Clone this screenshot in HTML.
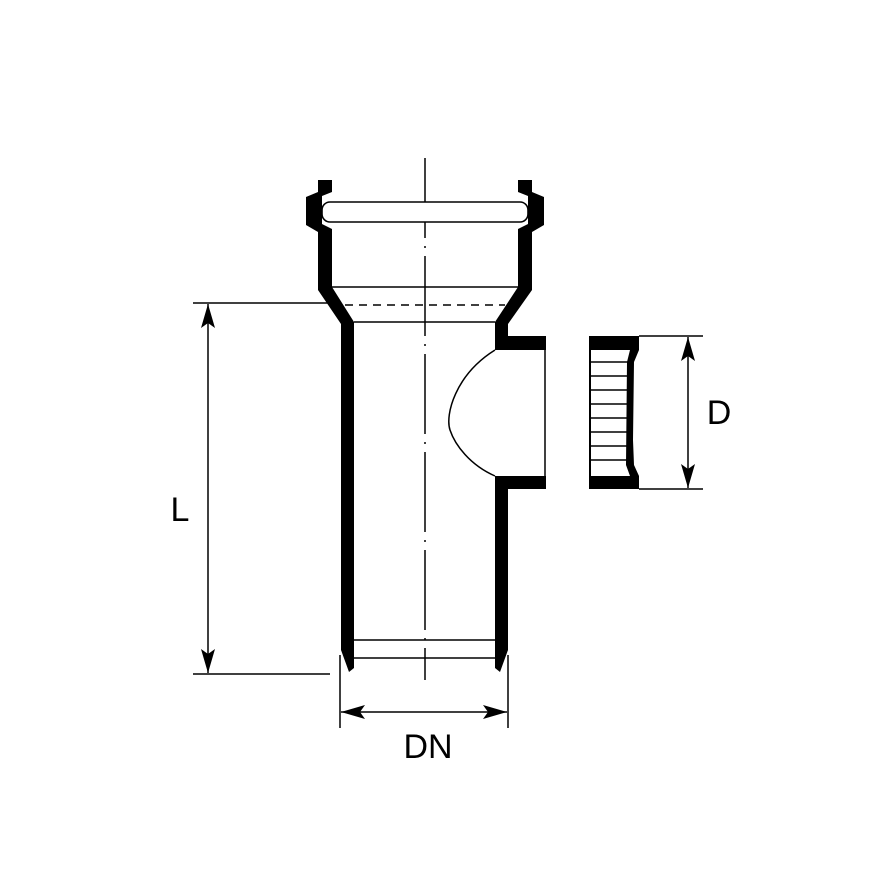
<!DOCTYPE html>
<html><head><meta charset="utf-8"><style>html,body{margin:0;padding:0;background:#fff}</style></head>
<body>
<svg width="880" height="880" viewBox="0 0 880 880" xmlns="http://www.w3.org/2000/svg">
<rect width="880" height="880" fill="#fff"/>
<defs>
<marker id="ar" markerWidth="24" markerHeight="14" refX="24" refY="7" orient="auto" markerUnits="userSpaceOnUse">
<path d="M0,0 L24,7 L0,14 L5,7 Z" fill="#000"/>
</marker>
</defs>
<line x1="425" y1="158" x2="425" y2="680" stroke="#000" stroke-width="1.5" stroke-dasharray="80,8,2,8"/>
<path d="M318,180 L332,180 L332,192 L322,196 L322,224 L332,229 L332,287 L354,322 L354,668 L349,672 L341,650 L341,324 L318,290 L318,232 L306,225 L306,197 L318,192 Z" fill="#000"/>
<path d="M532,180 L518,180 L518,192 L528,196 L528,224 L518,229 L518,287 L495,322 L495,336 L508,336 L508,324 L532,290 L532,232 L544,225 L544,197 L532,192 Z" fill="#000"/>
<path d="M495,336 L546,336 L546,350 L495,350 Z" fill="#000"/>
<path d="M495,476 L546,476 L546,489 L508,489 L508,650 L500,672 L495,668 Z" fill="#000"/>
<line x1="545" y1="350" x2="545" y2="476" stroke="#000" stroke-width="1.5"/>
<path d="M495,350 C455,375 445,415 450,430 C455,445 470,465 495,476" fill="none" stroke="#000" stroke-width="1.5"/>
<rect x="322" y="202" width="206" height="20" rx="8" fill="#fff" stroke="#000" stroke-width="1.6"/>
<line x1="332" y1="287" x2="518" y2="287" stroke="#000" stroke-width="1.5"/>
<line x1="345" y1="305" x2="505" y2="305" stroke="#000" stroke-width="1.5" stroke-dasharray="8,6"/>
<line x1="354" y1="322" x2="495" y2="322" stroke="#000" stroke-width="1.5"/>
<line x1="354" y1="640" x2="495" y2="640" stroke="#000" stroke-width="1.5"/>
<line x1="354" y1="658" x2="495" y2="658" stroke="#000" stroke-width="1.5"/>
<rect x="589" y="336" width="50" height="14" fill="#000"/>
<rect x="589" y="476" width="50" height="13" fill="#000"/>
<line x1="590" y1="350" x2="590" y2="476" stroke="#000" stroke-width="2"/>
<path d="M639,350 L634,362 L633,440 L634,465 L639,476 L630,476 L626,465 L627,362 L630,350 Z" fill="#000"/>
<g stroke="#000" stroke-width="1.4">
<line x1="590" y1="362" x2="628" y2="362"/><line x1="590" y1="376" x2="628" y2="376"/>
<line x1="590" y1="390" x2="628" y2="390"/><line x1="590" y1="404" x2="628" y2="404"/>
<line x1="590" y1="418" x2="628" y2="418"/><line x1="590" y1="432" x2="628" y2="432"/>
<line x1="590" y1="446" x2="628" y2="446"/><line x1="590" y1="460" x2="628" y2="460"/>
</g>
<line x1="639" y1="336" x2="703" y2="336" stroke="#000" stroke-width="1.5"/>
<line x1="639" y1="489" x2="703" y2="489" stroke="#000" stroke-width="1.5"/>
<line x1="688" y1="412" x2="688" y2="337" stroke="#000" stroke-width="1.5" marker-end="url(#ar)"/>
<line x1="688" y1="412" x2="688" y2="488" stroke="#000" stroke-width="1.5" marker-end="url(#ar)"/>
<text x="719" y="424" font-family="Liberation Sans, sans-serif" font-size="34" text-anchor="middle">D</text>
<line x1="193" y1="303" x2="330" y2="303" stroke="#000" stroke-width="1.5"/>
<line x1="193" y1="674" x2="330" y2="674" stroke="#000" stroke-width="1.5"/>
<line x1="208" y1="490" x2="208" y2="304" stroke="#000" stroke-width="1.5" marker-end="url(#ar)"/>
<line x1="208" y1="490" x2="208" y2="673" stroke="#000" stroke-width="1.5" marker-end="url(#ar)"/>
<text x="180" y="521" font-family="Liberation Sans, sans-serif" font-size="34" text-anchor="middle">L</text>
<line x1="340" y1="655" x2="340" y2="728" stroke="#000" stroke-width="1.5"/>
<line x1="508" y1="655" x2="508" y2="728" stroke="#000" stroke-width="1.5"/>
<line x1="424" y1="712" x2="341" y2="712" stroke="#000" stroke-width="1.5" marker-end="url(#ar)"/>
<line x1="424" y1="712" x2="507" y2="712" stroke="#000" stroke-width="1.5" marker-end="url(#ar)"/>
<text x="428" y="758" font-family="Liberation Sans, sans-serif" font-size="34" text-anchor="middle">DN</text>
</svg>
</body></html>
